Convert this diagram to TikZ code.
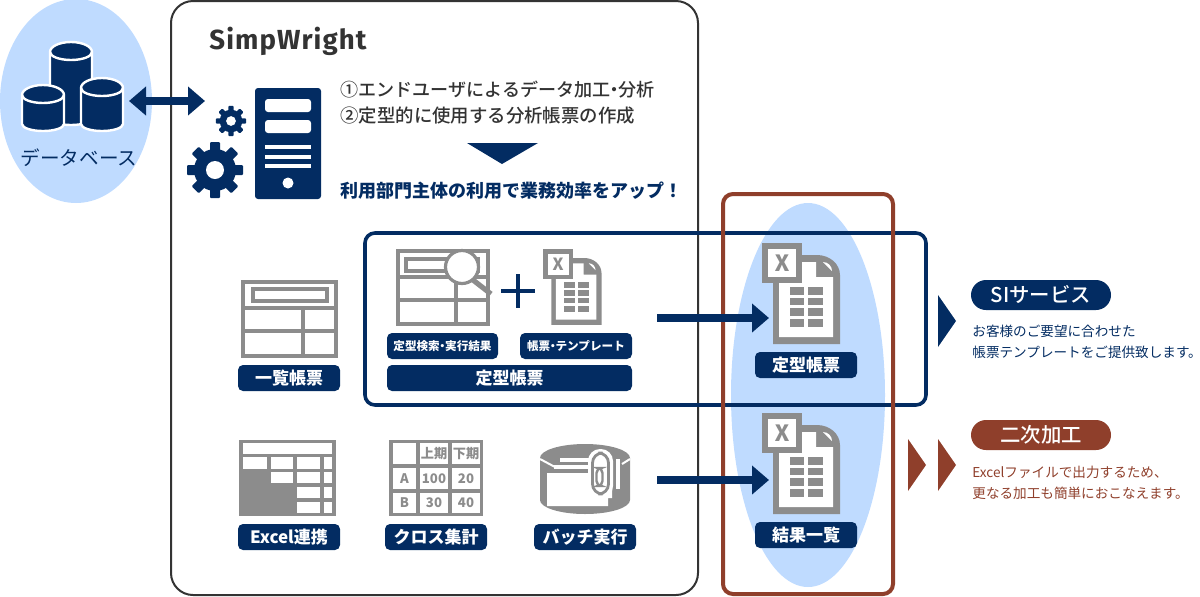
\documentclass[tikz,border=0pt]{standalone}
\usepackage{fontspec}
\setmainfont{Noto Sans CJK JP}
\newfontfamily\latinbold[LetterSpace=4]{Fira Sans Bold}
\newfontfamily\mediumjp{Noto Sans CJK JP Medium}
\newfontfamily\iconfont{Fira Sans Bold}
\usetikzlibrary{arrows.meta}
\definecolor{navy}{HTML}{032C62}
\definecolor{rust}{HTML}{8F3F2B}
\definecolor{sky}{HTML}{BFDBFF}
\definecolor{iconGray}{HTML}{8C8C8C}
\definecolor{frameDark}{HTML}{333333}
\newcommand{\ndot}{\kern-.27em・\kern-.27em}
\tikzset{
	xlsdoc/.pic={
		\fill [iconGray] (11,12) -- (55,12) arc (-90:0:23 and 20) -- (78,101) -- (11,101) -- cycle;
		\fill [white] (17,19) -- (54,19) -- (54,34) -- (71,34) -- (71,94) -- (17,94) -- cycle;
		\fill [white] (61,19) arc (-90:0:9) -- cycle;
		\fill [iconGray] (0,0) rectangle (40,40);
		\fill [white] (6,6) rectangle (34,34);
		\node [transform shape,inner sep=0pt,text=iconGray,font=\fontsize{12}{12}\iconfont] at (20,20) {X};
		\foreach \rowy in {44,54.5,65,76} {
			\fill [iconGray] (28,\rowy) rectangle (42,\rowy+7.5);
			\fill [iconGray] (46,\rowy) rectangle (61,\rowy+7.5);
		}
	},
	gearicon/.pic={
		\foreach \toothangle in {0,45,...,315}
			\fill [navy,rotate=\toothangle,rounded corners=0.5] (-5,-10) rectangle (5,-28);
		\fill [navy] (0,0) circle (21);
		\fill [white] (0,0) circle (9);
	}
}
\newcommand{\dbcyl}[4]{
	\fill [navy,draw=white,line width=1.2pt] (#1-#3,#2) -- (#1-#3,#2+#4) arc (180:0:#3 and 7) -- (#1+#3,#2) arc (0:-180:#3 and 10) -- cycle;
	\draw [white,line width=1.2pt] (#1-#3,#2) arc (180:0:#3 and 8);
}
\begin{document}
\begin{tikzpicture}[x=0.5pt,y=-0.5pt]
	\tikzstyle{every node}+=[inner sep=0pt]
	\tikzstyle{navtag}=[fill=navy,rounded corners=2.5pt,text=white,minimum height=13pt,font=\fontsize{8.5}{10}\bfseries]
	\tikzstyle{smalltag}=[navtag,font=\fontsize{5.8}{7}\bfseries]
	\tikzstyle{pilltag}=[minimum width=70pt,minimum height=15pt,rounded corners=7.5pt,text=white,font=\fontsize{10.2}{11}\mediumjp]
	\tikzstyle{bodytext}=[anchor=west,font=\fontsize{6.8}{8}\selectfont]
	\tikzstyle{leadtext}=[anchor=west,text=frameDark,font=\fontsize{9.2}{10}\mediumjp]
	\tikzstyle{icongrid}=[iconGray,line width=1.7pt]
	\tikzstyle{bigarrow}=[navy,line width=4pt,-{Triangle[length=8.5pt,width=14pt]}]
	\useasboundingbox (0,0) rectangle (1200,596);

	% database
	\fill [sky] (76,101) ellipse (76 and 102);
	\dbcyl{71}{52}{21}{66}
	\dbcyl{43}{95}{21}{29}
	\dbcyl{102}{88}{21}{36}
	\node [text=navy,font=\fontsize{9.8}{10}\selectfont] (dbtitle) at (79,158) {データベース};

	% main frame
	\draw [frameDark,line width=1pt,rounded corners=11pt] (171,1) rectangle (698,595);
	\node [anchor=west,text=frameDark,font=\fontsize{13.8}{16}\latinbold] (product) at (209,41) {SimpWright};
	\coordinate (dbleft) at (129,101);
	\coordinate (dbright) at (205,101);
	\draw [navy,line width=4pt,{Triangle[length=8.5pt,width=14pt]}-{Triangle[length=8.5pt,width=14pt]}] (dbleft) -- (dbright);

	% server and gears
	\pic at (231,121) [scale=0.54] {gearicon};
	\pic at (215,170) {gearicon};
	\fill [navy,rounded corners=1.5pt] (255,88) rectangle (321,199);
	\fill [white,rounded corners=1.5pt] (265,99) rectangle (311,112);
	\fill [white,rounded corners=1.5pt] (265,120) rectangle (311,133);
	\foreach \liney in {145,155,164}
		\fill [white] (265,\liney) rectangle (311,\liney+3.5);
	\fill [white] (288,183) circle (5.5);

	% lead text
	\node [leadtext,font=\fontsize{9.03}{10}\mediumjp] (leadone) at (340,90) {①エンドユーザによるデータ加工\ndot 分析};
	\node [leadtext] (leadtwo) at (340,116) {②定型的に使用する分析帳票の作成};
	\fill [navy] (467,143) -- (538,143) -- (502,164) -- cycle;
	\node [anchor=west,text=navy,font=\fontsize{9}{10}\bfseries] (leadthree) at (340,191) {利用部門主体の利用で業務効率をアップ！};

	% output ellipse and frames
	\fill [sky] (808,395) ellipse (77 and 192);
	\draw [navy,line width=1.8pt,rounded corners=5pt] (365,233) rectangle (926,405);
	\draw [rust,line width=2pt,rounded corners=5pt] (723,194) rectangle (893,594);

	% list report
	\draw [icongrid] (243,282) rectangle (336,356);
	\draw [icongrid] (253,289) rectangle (327,301);
	\draw [icongrid] (243,308) -- (336,308);
	\draw [icongrid] (243,331) -- (336,331);
	\draw [icongrid] (303,308) -- (303,356);
	\node [navtag,minimum width=51pt] (listtag) at (289,378) {一覧帳票};

	% search result
	\draw [icongrid] (398,251) rectangle (488,324);
	\draw [icongrid] (406,259) rectangle (478,271);
	\draw [icongrid] (398,277) -- (488,277);
	\draw [icongrid] (398,300) -- (488,300);
	\draw [icongrid] (456,277) -- (456,324);
	\draw [iconGray,line width=2.6pt] (473,280) -- (491,294);
	\draw [iconGray,fill=white,line width=1.6pt] (462,267) circle (16.5);
	\draw [navy,line width=2pt] (501,291) -- (535,291);
	\draw [navy,line width=2pt] (518,274) -- (518,308);
	\pic at (543,249) [scale=0.75] {xlsdoc};
	\node [smalltag,minimum width=55.5pt] (searchtag) at (442.5,346) {定型検索\ndot 実行結果};
	\node [smalltag,minimum width=56pt] (templatetag) at (576,346) {帳票\ndot テンプレート};
	\node [navtag,minimum width=122.5pt] (fixedtag) at (509.5,378) {定型帳票};

	% excel link
	\fill [iconGray] (239,440) rectangle (336,516);
	\fill [white] (243,443) rectangle (332,454);
	\foreach \cola/\colb/\rowa/\rowb in {243/267/457/469,271/293/457/469,297/320/457/469,324/332/457/469,271/293/472/483,297/320/472/483,324/332/472/483,297/320/487/498,324/332/487/498,297/320/502/513,324/332/502/513}
		\fill [white] (\cola,\rowa) rectangle (\colb,\rowb);
	\node [navtag,minimum width=51pt] (exceltag) at (289,537) {Excel連携};

	% cross table
	\fill [iconGray] (389,440) rectangle (483,516);
	\foreach \cola/\colb/\rowa/\rowb/\celltext in {393/416/443/464/{},420/448/443/464/上期,452/480/443/464/下期,393/416/468/489/A,420/448/468/489/100,452/480/468/489/20,393/416/493/513/B,420/448/493/513/30,452/480/493/513/40} {
		\fill [white] (\cola,\rowa) rectangle (\colb,\rowb);
		\node [text=iconGray,font=\fontsize{6.6}{8}\bfseries] at ({(\cola+\colb)/2},{(\rowa+\rowb)/2}) {\celltext};
	}
	\node [navtag,minimum width=51pt] (crosstag) at (436,537) {クロス集計};

	% batch run
	\fill [iconGray] (540,458) arc (180:360:45 and 14) -- (630,500) arc (0:180:45 and 14) -- cycle;
	\draw [white,line width=1pt] (540,459) -- (555,467);
	\draw [white,line width=1pt] (622,464) -- (630,459);
	\fill [white] (560,458) rectangle (592,462);
	\fill [white] (554,465) rectangle (592,469);
	\fill [white] (547,473) -- (612,473) -- (612,498) -- (608,498) -- (608,506) -- (547,506) -- cycle;
	\fill [white] (616,459) rectangle (620,489);
	\fill [white,rounded corners=6pt] (588,449) rectangle (613,498);
	\draw [iconGray,line width=1.4pt,rounded corners=5pt] (592.5,453) rectangle (608.5,494);
	\draw [iconGray,line width=1.2pt,rounded corners=2.5pt] (596.5,468) rectangle (602.5,486);
	\node [navtag,minimum width=51pt] (batchtag) at (585,537) {バッチ実行};

	% output documents
	\pic at (762,243) {xlsdoc};
	\pic at (762,413) {xlsdoc};
	\node [navtag,minimum width=51pt] (fixedout) at (806,365) {定型帳票};
	\node [navtag,minimum width=51pt] (resultout) at (806,535) {結果一覧};
	\coordinate (fixedfrom) at (657,318);
	\coordinate (fixedto) at (769,318);
	\coordinate (batchfrom) at (657,480);
	\coordinate (batchto) at (769,480);
	\draw [bigarrow] (fixedfrom) -- (fixedto);
	\draw [bigarrow] (batchfrom) -- (batchto);

	% right hand notes
	\fill [navy] (938,295) -- (956,321) -- (938,347) -- cycle;
	\fill [rust] (908,439) -- (926,465) -- (908,491) -- cycle;
	\fill [rust] (938,439) -- (956,465) -- (938,491) -- cycle;
	\node [pilltag,fill=navy] (sitag) at (1041,295) {SIサービス};
	\node [bodytext,text=navy] (sione) at (972,331) {お客様のご要望に合わせた};
	\node [bodytext,text=navy] (sitwo) at (972,352) {帳票テンプレートをご提供致します。};
	\node [pilltag,fill=rust] (secondtag) at (1041,435) {二次加工};
	\node [bodytext,text=rust] (secondone) at (972,472) {Excelファイルで出力するため、};
	\node [bodytext,text=rust] (secondtwo) at (972,493) {更なる加工も簡単におこなえます。};
\end{tikzpicture}
\end{document}
